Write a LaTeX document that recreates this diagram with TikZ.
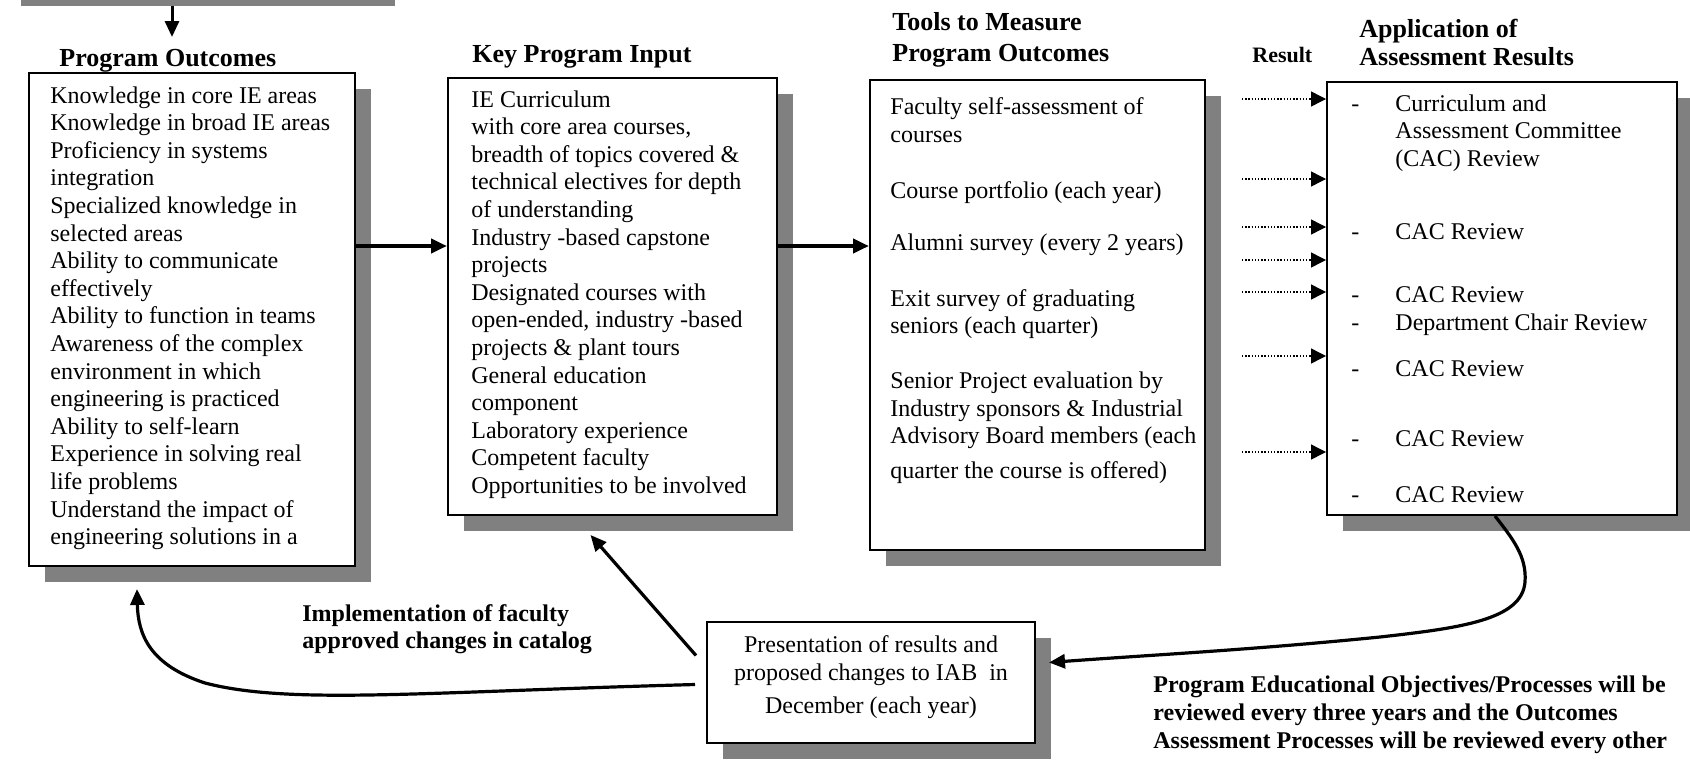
\documentclass[tikz,border=0pt]{standalone}
\usepackage{fontspec}
\setmainfont{Liberation Serif}
\usetikzlibrary{arrows.meta,shadows}
\definecolor{boxgray}{gray}{0.5}

\begin{document}
\begin{tikzpicture}[x=0.5pt, y=-0.5pt,
		box/.style={draw, line width=1pt, fill=white, inner sep=0pt, drop shadow={shadow xshift=8pt, shadow yshift=-8pt, fill=boxgray, opacity=1}},
		txt/.style={anchor=base west, inner sep=0pt, font=\fontsize{12}{14}\selectfont},
		hd/.style={anchor=base west, inner sep=0pt, font=\fontsize{13}{15}\selectfont\bfseries},
		note/.style={anchor=base west, inner sep=0pt, font=\fontsize{12}{14}\selectfont\bfseries},
		flow/.style={line width=2pt, -{Triangle[length=8pt, width=7pt]}},
		back/.style={line width=1.6pt, -{Triangle[length=8pt, width=7pt]}},
		res/.style={line width=0.7pt, dash pattern=on 0.7pt off 0.9pt, -{Triangle[length=7.5pt, width=7.5pt]}}]
	\useasboundingbox (0,0) rectangle (1690,760);

	% boxes
	\node[fill=boxgray, inner sep=0pt, minimum width=187pt, minimum height=10pt] (top) at (208,-4) {};
	\node[box, minimum width=163pt, minimum height=246.5pt] (box1) at (192,319.5) {};
	\node[box, minimum width=164.5pt, minimum height=218.5pt] (box2) at (612.5,296.5) {};
	\node[box, minimum width=167.5pt, minimum height=235pt] (box3) at (1037.5,315) {};
	\node[box, minimum width=175pt, minimum height=216.5pt] (box4) at (1502,298.5) {};
	\node[box, minimum width=164pt, minimum height=60.5pt] (box5) at (871,682.5) {};

	% headings
	\node[hd] (hdpo) at (59,66) {Program Outcomes};
	\node[hd] (hdkpi) at (472,62.5) {Key Program Input};
	\node[hd] (hdtm1) at (892,31) {Tools to Measure};
	\node[hd] (hdtm2) at (892,61.5) {Program Outcomes};
	\node[hd, font=\fontsize{11}{13}\selectfont\bfseries] (hdres) at (1252,62) {Result};
	\node[hd] (hdap1) at (1359,37) {Application of};
	\node[hd] (hdap2) at (1359,65) {Assessment Results};

	% box texts
	\foreach \t [count=\i from 0] in {Knowledge in core IE areas, Knowledge in broad IE areas,
		Proficiency in systems, integration, Specialized knowledge in, selected areas,
		Ability to communicate, effectively, Ability to function in teams,
		Awareness of the complex, environment in which, engineering is practiced,
		Ability to self-learn, Experience in solving real, life problems,
		Understand the impact of, engineering solutions in a}
		\node[txt] (po\i) at (50,103+27.6*\i) {\t};

	\foreach \t [count=\i from 0] in {IE Curriculum, {with core area courses,},
		breadth of topics covered \&, technical electives for depth, of understanding,
		Industry -based capstone, projects, Designated courses with,
		{open-ended, industry -based}, projects \& plant tours, General education,
		component, Laboratory experience, Competent faculty, Opportunities to be involved}
		\node[txt] (kpi\i) at (471,107+27.6*\i) {\t};

	\foreach \t/\yy [count=\i] in {Faculty self-assessment of/114, courses/142,
		Course portfolio (each year)/198, Alumni survey (every 2 years)/250,
		Exit survey of graduating/306, seniors (each quarter)/333,
		Senior Project evaluation by/388, Industry sponsors \& Industrial/416,
		Advisory Board members (each/443, quarter the course is offered)/478}
		\node[txt] (tm\i) at (890,\yy) {\t};

	\foreach \t/\yy [count=\i] in {Curriculum and/111, Assessment Committee/138,
		(CAC) Review/166, CAC Review/239, CAC Review/302, Department Chair Review/330,
		CAC Review/376, CAC Review/446, CAC Review/502}
		\node[txt] (ap\i) at (1395,\yy) {\t};
	\foreach \yy [count=\i] in {111,239,302,330,376,446,502}
		\node[txt] (dash\i) at (1351,\yy) {-};

	\foreach \t/\yy [count=\i] in {Presentation of results and/652,
		proposed changes to IAB\ \ in/680, December (each year)/713}
		\node[txt, anchor=base] (pr\i) at (871,\yy) {\t};

	% notes
	\node[note] (imp1) at (302,621) {Implementation of faculty};
	\node[note] (imp2) at (302,648) {approved changes in catalog};
	\foreach \t [count=\i from 0] in {Program Educational Objectives/Processes will be,
		reviewed every three years and the Outcomes,
		Assessment Processes will be reviewed every other}
		\node[note] (peo\i) at (1153,692+28*\i) {\t};

	% arrows
	\coordinate (poin) at (172,37);
	\coordinate (mid) at (0,246);
	\draw[flow, line width=1.5pt] (top.south -| poin) -- (poin);
	\draw[flow] (box1.east |- mid) -- (box2.west |- mid);
	\draw[flow] (box2.east |- mid) -- (box3.west |- mid);
	\foreach \yy in {99,179,227,260,292,356,452}
		\draw[res, shorten <=18pt] (box3.east |- 0,\yy) -- (box4.west |- 0,\yy);

	\draw[back] ([xshift=-3.5pt]box4.south) .. controls (1512,538) and (1527,556) .. (1525,582)
		.. controls (1522,620) and (1460,628) .. (1380,637)
		.. controls (1250,650) and (1150,655) .. ([xshift=6.5pt,yshift=10pt]box5.east);
	\draw[back] ([xshift=-5pt,yshift=13.5pt]box5.west) -- ([xshift=-11pt,yshift=-9.5pt]box2.south);
	\draw[back] ([xshift=-5.5pt,yshift=-1pt]box5.west) .. controls (420,692) and (290,705) .. (205,683)
		.. controls (150,665) and (138,635) .. ([xshift=-27.5pt,yshift=-11pt]box1.south);
\end{tikzpicture}
\end{document}
